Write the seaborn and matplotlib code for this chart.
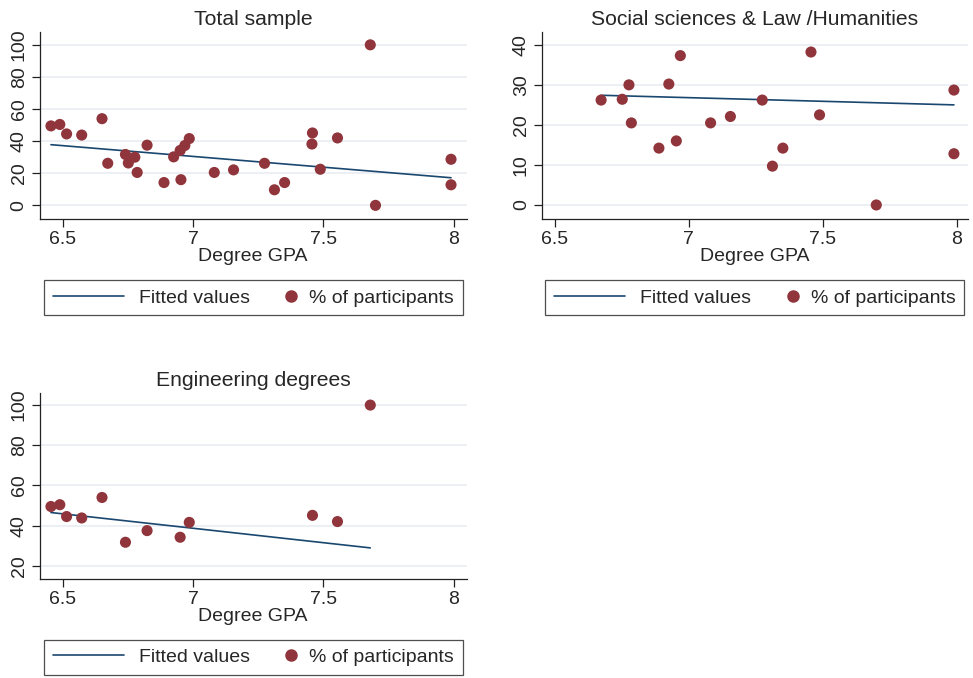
import numpy as np
import pandas as pd
import matplotlib
matplotlib.use("Agg")
from matplotlib import pyplot as plt
from matplotlib.lines import Line2D
from matplotlib.legend_handler import HandlerLine2D
import seaborn as sns

# social sciences & law / humanities
soc_gpa = [6.672, 6.751, 6.776, 6.785, 6.888, 6.925, 6.953, 6.968, 7.081,
           7.155, 7.274, 7.312, 7.351, 7.456, 7.488, 7.700, 7.990, 7.990]
soc_pct = [26.2, 26.4, 30.0, 20.5, 14.2, 30.2, 16.0, 37.3, 20.5,
           22.1, 26.2, 9.7, 14.2, 38.2, 22.5, 0.0, 28.7, 12.8]

# engineering
eng_gpa = [6.454, 6.488, 6.514, 6.572, 6.650, 6.740, 6.823, 6.950, 6.985,
           7.458, 7.554, 7.680]
eng_pct = [49.5, 50.4, 44.5, 43.8, 54.0, 31.7, 37.5, 34.2, 41.6,
           45.1, 42.0, 100.0]

# fitted values (ends of each fitted line)
fit_total_x = [6.454, 7.990]
fit_total_y = [37.8, 17.2]
fit_soc_x = [6.672, 7.990]
fit_soc_y = [27.4, 25.0]
fit_eng_x = [6.454, 7.680]
fit_eng_y = [46.5, 28.9]

soc = pd.DataFrame({'gpa': soc_gpa, 'pct': soc_pct})
eng = pd.DataFrame({'gpa': eng_gpa, 'pct': eng_pct})
total = pd.concat([soc, eng], ignore_index=True)

xticks = [6.5, 7, 7.5, 8]
dot_col = '#90353B'
line_col = '#1A476F'
grid_col = '#E9EEF2'


class MarkerRight(HandlerLine2D):
    # put the dot near the right end of its handle box, like Stata does
    def get_xdata(self, legend, xdescent, ydescent, width, height, fontsize):
        m = -xdescent + width - 0.15 * fontsize
        xdata = np.array([m - 0.01, m + 0.01])
        return xdata, np.array([m])


sns.set_style('white')
plt.rcParams['font.family'] = ['Liberation Sans', 'DejaVu Sans']
plt.rcParams['font.size'] = 14

fig = plt.figure(figsize=(9.73, 6.78), dpi=100)

panels = [
    (total, fit_total_x, fit_total_y, 'Total sample', [0.0406, 0.677, 0.439, 0.2758],
     (-8.5, 108), [0, 20, 40, 60, 80, 100], (6.41, 8.05)),
    (soc, fit_soc_x, fit_soc_y, 'Social sciences & Law /Humanities', [0.5567, 0.677, 0.438, 0.2758],
     (-3.5, 43.2), [0, 10, 20, 30, 40], (6.45, 8.042)),
    (eng, fit_eng_x, fit_eng_y, 'Engineering degrees', [0.0406, 0.146, 0.439, 0.2743],
     (13.4, 106), [20, 40, 60, 80, 100], (6.41, 8.05)),
]

for df, fx, fy, title, pos, ylim, yticks, xlim in panels:
    ax = fig.add_axes(pos)
    for y in yticks:
        ax.axhline(y, color=grid_col, lw=1.2, zorder=0)
    sns.lineplot(x=fx, y=fy, ax=ax, color=line_col, lw=1.2, zorder=2)
    sns.scatterplot(data=df, x='gpa', y='pct', ax=ax, color=dot_col, s=64,
                    edgecolor='none', zorder=3)
    ax.set_xlim(*xlim)
    ax.set_ylim(*ylim)
    ax.set_xticks(xticks)
    ax.set_xticklabels(['6.5', '7', '7.5', '8'])
    ax.set_yticks(yticks)
    ax.set_yticklabels([str(v) for v in yticks], rotation=90, va='center')
    ax.set_xlabel('Degree GPA', fontsize=14, labelpad=0)
    ax.set_ylabel('')
    ax.set_title(title, fontsize=15.2, pad=5)
    for s in ['top', 'right']:
        ax.spines[s].set_visible(False)
    for s in ['left', 'bottom']:
        ax.spines[s].set_color('#222222')
        ax.spines[s].set_linewidth(0.9)
    ax.tick_params(axis='both', direction='out', length=5.5, width=0.9,
                   color='#222222', labelsize=14, pad=3, left=True, bottom=True)

    h_line = Line2D([], [], color=line_col, lw=1.2)
    h_dot = Line2D([], [], color=dot_col, marker='o', ls='none', markersize=8)
    leg = ax.legend([h_line, h_dot], ['Fitted values', '% of participants'], ncol=2,
                    loc='upper center', bbox_to_anchor=(0.5, -0.326), borderaxespad=0,
                    frameon=True, fancybox=False, edgecolor='#222222',
                    fontsize=14, handlelength=3.66, handletextpad=0.77,
                    columnspacing=-1.39, borderpad=0.46,
                    handler_map={h_dot: MarkerRight(numpoints=1)})
    leg.get_frame().set_linewidth(0.9)

fig.savefig('out.png', dpi=100, facecolor='white')
